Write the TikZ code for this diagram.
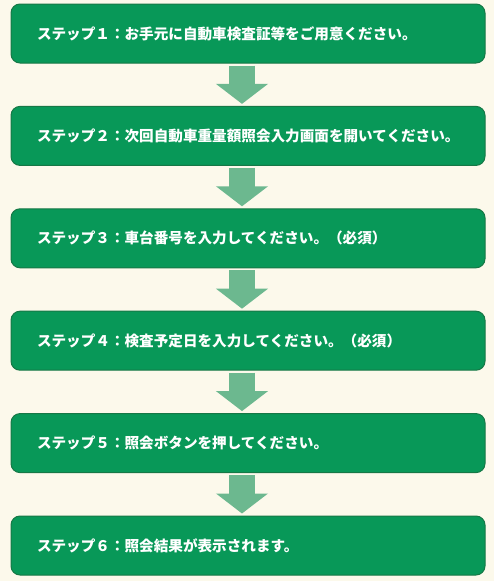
\documentclass[tikz,border=0pt]{standalone}
\usepackage{fontspec}
\newfontfamily\jpfont{Noto Sans CJK JP}
\definecolor{bgcream}{RGB}{252,249,235}
\definecolor{stepgreen}{RGB}{8,152,88}
\definecolor{stepedge}{RGB}{22,120,70}
\definecolor{arrowgreen}{RGB}{108,184,143}
\usetikzlibrary{arrows.meta}

\begin{document}
\begin{tikzpicture}[x=1pt, y=-1pt, font=\jpfont\bfseries\fontsize{14.6pt}{17pt}\selectfont,
    stepbox/.style={draw=stepedge, line width=1pt, fill=stepgreen, text=white, rounded corners=9pt,
      minimum width=474pt, minimum height=59pt, text width=422pt, inner xsep=26pt, align=left},
    steparrow/.style={arrowgreen, line width=26pt, -{Triangle[width=51pt,length=20pt]},
      shorten <=2pt, shorten >=2pt}]
        \fill[bgcream] (0,0) rectangle (494,581);
        \useasboundingbox (0,0) rectangle (494,581);
        \node[stepbox] (s1) at (248,33.5)  {ステップ１：お手元に自動車検査証等をご用意ください。};
        \node[stepbox] (s2) at (248,135.9) {ステップ２：次回自動車重量額照会入力画面を開いてください。};
        \node[stepbox] (s3) at (248,238.3) {ステップ３：車台番号を入力してください。（必須）};
        \node[stepbox] (s4) at (248,340.7) {ステップ４：検査予定日を入力してください。（必須）};
        \node[stepbox] (s5) at (248,443.1) {ステップ５：照会ボタンを押してください。};
        \node[stepbox] (s6) at (248,545.5) {ステップ６：照会結果が表示されます。};
        % arrows sit a little left of centre
        \draw[steparrow] ([xshift=-6pt]s1.south) -- ([xshift=-6pt]s2.north);
        \draw[steparrow] ([xshift=-6pt]s2.south) -- ([xshift=-6pt]s3.north);
        \draw[steparrow] ([xshift=-6pt]s3.south) -- ([xshift=-6pt]s4.north);
        \draw[steparrow] ([xshift=-6pt]s4.south) -- ([xshift=-6pt]s5.north);
        \draw[steparrow] ([xshift=-6pt]s5.south) -- ([xshift=-6pt]s6.north);
      \end{tikzpicture}
\end{document}
